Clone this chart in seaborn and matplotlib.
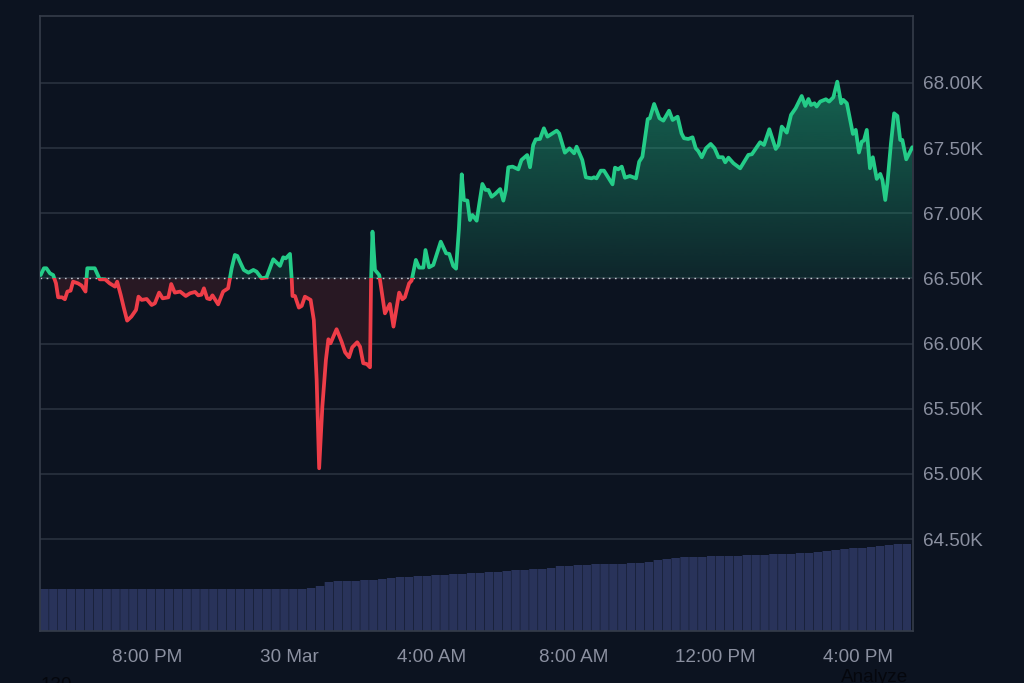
import numpy as np
import matplotlib
matplotlib.use("Agg")
import matplotlib.pyplot as plt
from matplotlib.patches import Rectangle
from matplotlib.path import Path
import seaborn as sns

# hours relative to midnight 30 Mar
hours = [-6.98, -6.89, -6.82, -6.72, -6.63, -6.55, -6.49, -6.38, -6.30, -6.23, -6.14, -6.07, -5.93, -5.83, -5.72,
         -5.67, -5.55, -5.46, -5.32, -5.17, -5.04, -4.89, -4.83, -4.73, -4.64, -4.55, -4.43, -4.30, -4.23, -4.14,
         -4.00, -3.86, -3.77, -3.65, -3.55, -3.39, -3.31, -3.21, -3.06, -2.90, -2.78, -2.64, -2.55, -2.46, -2.39,
         -2.30, -2.22, -2.15, -1.99, -1.85, -1.71, -1.61, -1.52, -1.45, -1.38, -1.27, -1.14, -1.00, -0.91, -0.77,
         -0.63, -0.44, -0.25, -0.16, -0.09, 0.03, 0.08, 0.10, 0.17, 0.28, 0.36, 0.45, 0.61, 0.70, 0.78, 0.85, 0.94,
         1.04, 1.11, 1.17, 1.34, 1.48, 1.58, 1.69, 1.78, 1.92, 2.00, 2.09, 2.19, 2.28, 2.31, 2.35, 2.42, 2.54, 2.61,
         2.70, 2.84, 2.94, 3.10, 3.19, 3.26, 3.38, 3.45, 3.57, 3.66, 3.78, 3.84, 3.94, 4.06, 4.27, 4.42, 4.51, 4.62,
         4.70, 4.78, 4.86, 4.92, 5.02, 5.09, 5.16, 5.28, 5.44, 5.53, 5.61, 5.70, 5.80, 5.94, 6.03, 6.10, 6.17, 6.29,
         6.45, 6.54, 6.70, 6.78, 6.87, 6.94, 7.06, 7.17, 7.27, 7.53, 7.60, 7.76, 7.89, 8.02, 8.09, 8.25, 8.35, 8.51,
         8.58, 8.65, 8.77, 8.86, 9.10, 9.17, 9.26, 9.36, 9.45, 9.59, 9.76, 9.85, 9.94, 10.09, 10.15, 10.27, 10.42,
         10.53, 10.69, 10.79, 10.93, 11.04, 11.11, 11.23, 11.35, 11.44, 11.51, 11.61, 11.73, 11.86, 11.97, 12.08,
         12.20, 12.27, 12.36, 12.50, 12.69, 12.92, 13.02, 13.25, 13.36, 13.51, 13.69, 13.77, 13.86, 14.00, 14.12,
         14.25, 14.42, 14.52, 14.61, 14.68, 14.78, 14.84, 14.94, 15.10, 15.19, 15.31, 15.42, 15.53, 15.59, 15.69,
         15.86, 15.94, 16.03, 16.11, 16.17, 16.25, 16.34, 16.42, 16.53, 16.63, 16.69, 16.77, 16.83, 16.93, 17.02,
         17.11, 17.19, 17.25, 17.36, 17.53]

prices = [66526, 66578, 66578, 66539, 66526, 66462, 66355, 66355, 66340, 66399, 66406, 66475, 66462, 66445, 66399,
          66578, 66578, 66578, 66493, 66493, 66462, 66437, 66475, 66373, 66271, 66176, 66207, 66258, 66360, 66335,
          66342, 66296, 66309, 66391, 66347, 66355, 66457, 66391, 66399, 66365, 66386, 66396, 66370, 66375, 66424,
          66347, 66340, 66370, 66301, 66399, 66424, 66578, 66680, 66672, 66629, 66565, 66544, 66565, 66552, 66501,
          66508, 66647, 66596, 66662, 66654, 66688, 66488, 66365, 66365, 66276, 66289, 66360, 66335, 66181, 65721,
          65043, 65516, 65874, 66033, 66002, 66110, 66015, 65933, 65895, 65971, 66010, 65976, 65849, 65843, 65818,
          66488, 66859, 66565, 66526, 66399, 66232, 66304, 66130, 66391, 66340, 66355, 66462, 66483, 66642, 66583,
          66583, 66718, 66585, 66603, 66782, 66693, 66688, 66595, 66575, 66880, 67299, 67102, 67097, 66948, 66987,
          66943, 67225, 67179, 67179, 67127, 67148, 67186, 67097, 67179, 67353, 67358, 67337, 67409, 67447, 67353,
          67524, 67567, 67570, 67652, 67588, 67634, 67613, 67465, 67498, 67460, 67511, 67409, 67276, 67268, 67276,
          67268, 67327, 67327, 67222, 67350, 67337, 67358, 67273, 67286, 67268, 67396, 67434, 67723, 67729, 67839,
          67729, 67711, 67787, 67716, 67741, 67613, 67576, 67570, 67583, 67499, 67478, 67430, 67499, 67532, 67499,
          67430, 67430, 67391, 67427, 67384, 67345, 67448, 67453, 67545, 67524, 67645, 67494, 67524, 67665, 67619,
          67755, 67806, 67900, 67824, 67877, 67831, 67844, 67819, 67857, 67875, 67857, 67890, 68010, 67844, 67870,
          67844, 67609, 67640, 67466, 67550, 67558, 67640, 67345, 67430, 67264, 67302, 67256, 67102, 67230, 67537,
          67767, 67747, 67563, 67563, 67414, 67507]

# one bar per 15 minutes
volume = [42] * 30 + [43, 45, 49, 50, 50, 50, 51, 51, 52, 53, 54, 54, 55, 55, 56, 56, 57, 57, 58, 58, 59, 59, 60, 61,
                      61, 62, 62, 63, 65, 65, 66, 66, 67, 67, 67, 67, 68, 68, 69, 71, 72, 73, 74, 74, 74, 75, 75, 75,
                      75, 76, 76, 76, 77, 77, 77, 78, 78, 79, 80, 81, 82, 83, 83, 84, 85, 86, 87, 87]

baseline = 66500
y_ticks = [64500, 65000, 65500, 66000, 66500, 67000, 67500, 68000]
y_labels = ["64.50K", "65.00K", "65.50K", "66.00K", "66.50K", "67.00K", "67.50K", "68.00K"]
x_ticks = [-4, 0, 4, 8, 12, 16]
x_labels = ["8:00 PM", "30 Mar", "4:00 AM", "8:00 AM", "12:00 PM", "4:00 PM"]

BG = "#0c1320"
GREEN = "#24cc88"
RED = "#ee3d48"
TEXT = "#8b90a0"
GRID = "#2a323f"
FRAME = "#353c49"

sns.set_theme(style="dark", rc={"figure.facecolor": BG, "axes.facecolor": BG})
plt.rcParams["font.family"] = ["Liberation Sans", "DejaVu Sans"]

fig = plt.figure(figsize=(10.24, 6.83), dpi=100)
pos = [40 / 1024, 1 - 631 / 683, 873 / 1024, 615 / 683]
xlim = (-7.0, 17.55)
ylim = (63794, 68514)

# volume underneath on its own scale
ax_vol = fig.add_axes(pos, zorder=1)
vol_hours = np.arange(len(volume)) * 0.25 + xlim[0] + 0.125
sns.barplot(x=vol_hours, y=volume, native_scale=True, color="#29335a", saturation=1, width=0.95,
            edgecolor="none", linewidth=0, ax=ax_vol)
for bar in ax_vol.patches:
    bar.set_snap(False)  # otherwise the gaps land unevenly
ax_vol.set_xlim(xlim)
ax_vol.set_ylim(0, 615)
ax_vol.axis("off")

ax = fig.add_axes(pos, zorder=2)
ax.patch.set_visible(False)
h = np.array(hours)
p = np.array(prices)

# shaded areas
up = ax.fill_between(h, p, baseline, where=p >= baseline, interpolate=True, color="none", lw=0)
down = ax.fill_between(h, p, baseline, where=p <= baseline, interpolate=True, color="#3a1c26", alpha=0.62, lw=0)
grad = np.zeros((256, 1, 4))
grad[:, 0, :3] = matplotlib.colors.to_rgb("#1fb884")
grad[:, 0, 3] = np.linspace(0.46, 0.12, 256)
im = ax.imshow(grad, extent=(xlim[0], xlim[1], baseline, 67900), aspect="auto", origin="upper", zorder=1.5)
im.set_clip_path(Path.make_compound_path(*up.get_paths()), ax.transData)

ax.axhline(baseline, color="#c4c8d0", lw=1, ls=(0, (1.2, 3.2)), zorder=2)

# same line twice, clipped either side of the baseline
sns.lineplot(x=h, y=p, color=GREEN, lw=2.7, estimator=None, sort=False, ax=ax, zorder=3)
sns.lineplot(x=h, y=p, color=RED, lw=2.7, estimator=None, sort=False, ax=ax, zorder=3)
ax.lines[-2].set_clip_path(Rectangle((xlim[0], baseline), xlim[1] - xlim[0], ylim[1] - baseline, transform=ax.transData))
ax.lines[-1].set_clip_path(Rectangle((xlim[0], ylim[0]), xlim[1] - xlim[0], baseline - ylim[0], transform=ax.transData))

ax.set_xlim(xlim)
ax.set_ylim(ylim)
ax.yaxis.tick_right()
ax.set_yticks(y_ticks, y_labels)
ax.set_xticks(x_ticks, x_labels)
ax.tick_params(axis="y", length=0, pad=7, labelsize=13.6, labelcolor=TEXT)
ax.tick_params(axis="x", length=0, pad=13, labelsize=13.6, labelcolor=TEXT)
ax.grid(axis="y", color=GRID, lw=1.2, zorder=0)
ax.grid(axis="x", visible=False)
ax.set_axisbelow(True)
for s in ax.spines.values():
    s.set_visible(True)
    s.set_color(FRAME)
    s.set_linewidth(1.2)

# bits of the page below the chart, cut off by the crop
fig.text(56 / 1024, 1 - 690 / 683, "130", color="#05070d", fontsize=13.6, ha="center", va="baseline")
fig.text(875 / 1024, 1 - 682 / 683, "Analyze", color="#05070d", fontsize=13.6, ha="center", va="baseline")

fig.savefig("out.png", dpi=100, facecolor=BG)
